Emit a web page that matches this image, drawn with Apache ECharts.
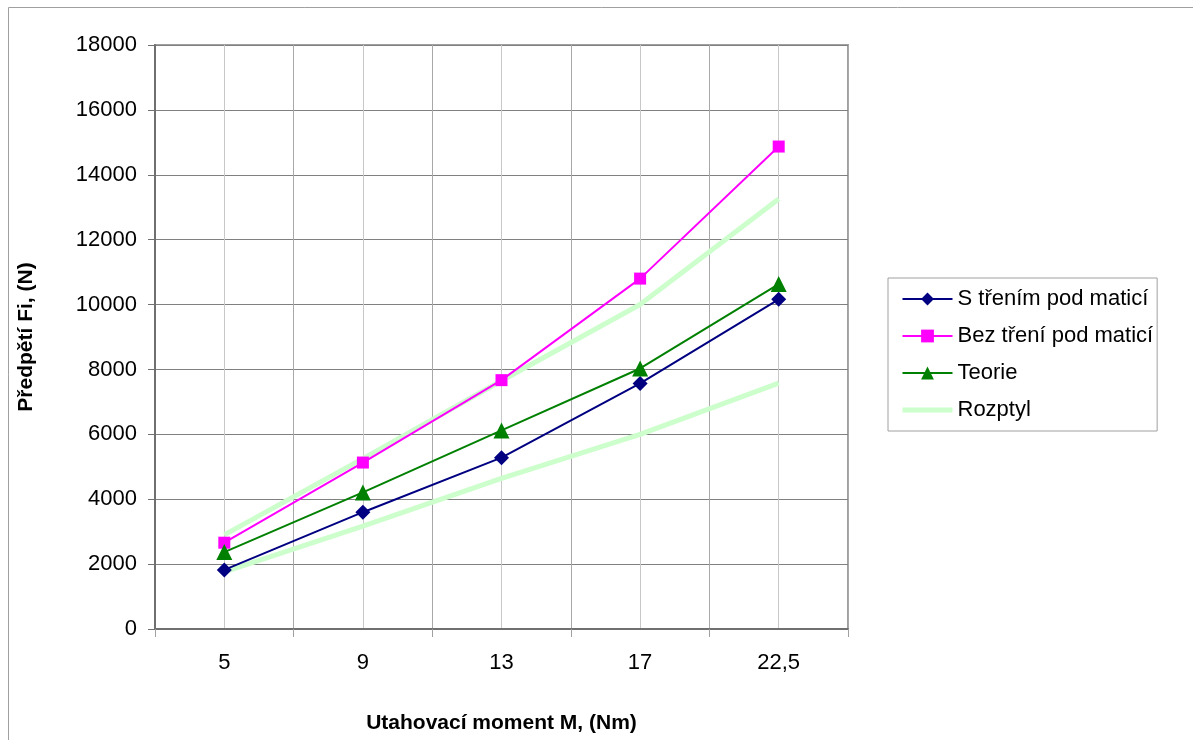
<!DOCTYPE html>
<html>
<head>
<meta charset="utf-8">
<script src="https://cdn.jsdelivr.net/npm/echarts@6/dist/echarts.min.js"></script>
<style>html,body{margin:0;padding:0;background:#fff}#c{width:1193px;height:740px}</style>
</head>
<body>
<div id="c"></div>
<script>
const categories = ['5', '9', '13', '17', '22,5'];
const sTrenim = [1820, 3600, 5280, 7570, 10160];
const bezTreni = [2660, 5130, 7670, 10800, 14870];
const teorie = [2370, 4210, 6120, 8030, 10630];
const rozptylUpper = [2900, 5250, 7650, 10000, 13250];
const rozptylLower = [1760, 3170, 4640, 6000, 7580];
const yTicks = { min: 0, max: 18000, interval: 2000 };

const FONT = '"Liberation Sans", Arial, sans-serif';
const chart = echarts.init(document.getElementById('c'), null, { renderer: 'canvas' });

chart.setOption({
  animation: false,
  backgroundColor: '#fff',
  graphic: [{
    type: 'rect', z: -10, silent: true,
    shape: { x: 8.5, y: 7.5, width: 1200, height: 800 },
    style: { fill: 'none', stroke: '#a0a0a0', lineWidth: 1 }
  }],
  grid: {
    left: 155, right: 345, top: 45, bottom: 111,
    show: true, borderColor: '#a0a0a0', borderWidth: 2, backgroundColor: 'transparent'
  },
  legend: {
    orient: 'vertical', left: 888, top: 278,
    data: [
      'S třením pod maticí', 'Bez tření pod maticí', 'Teorie',
      { name: 'Rozptyl', itemStyle: { opacity: 0 }, lineStyle: { width: 5, color: '#ccffcc' } }
    ],
    itemWidth: 50, itemHeight: 16, itemGap: 15,
    padding: [10, 4, 10, 12],
    borderColor: '#a0a0a0', borderWidth: 1,
    textStyle: { fontFamily: FONT, fontSize: 22, color: '#000' }
  },
  xAxis: [{
    type: 'category', data: categories, boundaryGap: true,
    name: 'Utahovací moment M, (Nm)', nameLocation: 'middle', nameGap: 84,
    nameTextStyle: { fontFamily: FONT, fontSize: 21, fontWeight: 'bold', color: '#000' },
    axisLine: { lineStyle: { color: '#707070', width: 2 } },
    axisTick: { show: true, length: 8, lineStyle: { color: '#a0a0a0' } },
    axisLabel: { fontFamily: FONT, fontSize: 22, color: '#000', margin: 23 },
    splitLine: { show: false }
  }, {
    type: 'value', min: 0, max: 10, interval: 1, position: 'bottom',
    axisLine: { show: false }, axisTick: { show: false }, axisLabel: { show: false },
    splitLine: { show: true, lineStyle: { color: ['#a8a8a8', '#c8c8c8'], width: 1 } }
  }],
  yAxis: {
    type: 'value', min: yTicks.min, max: yTicks.max, interval: yTicks.interval,
    name: 'Předpětí Fi, (N)', nameLocation: 'middle', nameGap: 118, nameRotate: 90,
    nameTextStyle: { fontFamily: FONT, fontSize: 21, fontWeight: 'bold', color: '#000' },
    axisLine: { show: true, lineStyle: { color: '#707070', width: 2 } },
    axisTick: { show: true, length: 7, lineStyle: { color: '#707070' } },
    axisLabel: { fontFamily: FONT, fontSize: 22, color: '#000', margin: 18,
      formatter: function (v) { return String(v); } },
    splitLine: { show: true, lineStyle: { color: '#808080', width: 1 } }
  },
  series: [
    { name: 'Rozptyl', type: 'line', data: rozptylUpper, symbol: 'none', z: 2,
      lineStyle: { color: '#ccffcc', width: 5 }, itemStyle: { color: '#ccffcc' } },
    { name: 'Rozptyl', type: 'line', data: rozptylLower, symbol: 'none', z: 2,
      lineStyle: { color: '#ccffcc', width: 5 }, itemStyle: { color: '#ccffcc' } },
    { name: 'S třením pod maticí', type: 'line', data: sTrenim, z: 3,
      symbol: 'diamond', symbolSize: 15,
      lineStyle: { color: '#000080', width: 2 }, itemStyle: { color: '#000080' } },
    { name: 'Bez tření pod maticí', type: 'line', data: bezTreni, z: 3,
      symbol: 'rect', symbolSize: 12,
      lineStyle: { color: '#ff00ff', width: 2 }, itemStyle: { color: '#ff00ff' } },
    { name: 'Teorie', type: 'line', data: teorie, z: 3,
      symbol: 'triangle', symbolSize: 16,
      lineStyle: { color: '#008000', width: 2 }, itemStyle: { color: '#008000' } }
  ]
});
</script>
</body>
</html>
